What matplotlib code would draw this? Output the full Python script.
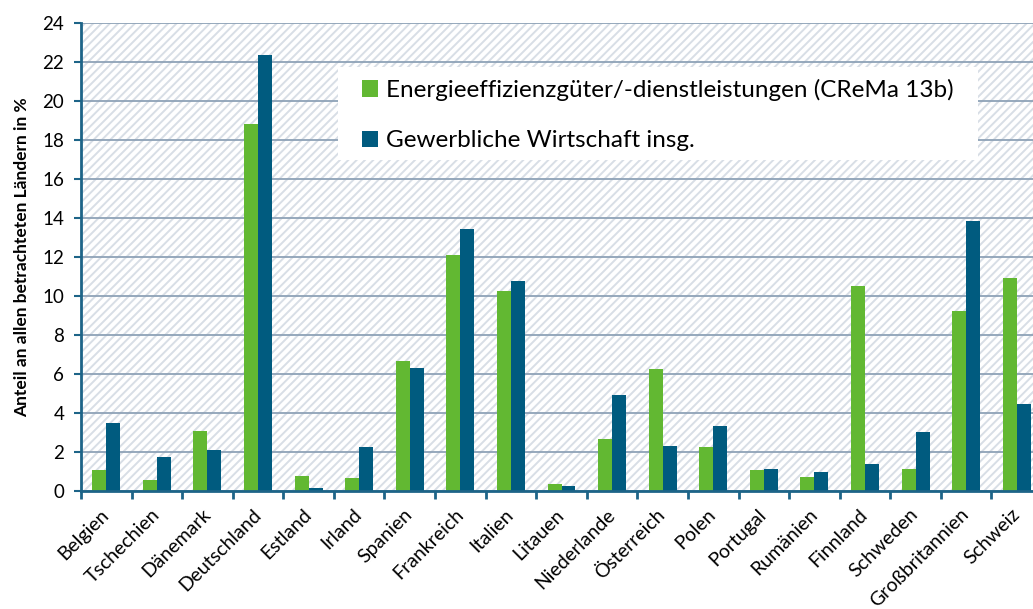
import matplotlib
matplotlib.use('Agg')
import matplotlib.pyplot as plt
from matplotlib.patches import Rectangle
import numpy as np

plt.rcParams['font.family'] = ['Lato', 'DejaVu Sans']
plt.rcParams['hatch.linewidth'] = 1.4
plt.rcParams['hatch.color'] = '#d8dee6'

# data
laender = ['Belgien', 'Tschechien', 'Dänemark', 'Deutschland', 'Estland', 'Irland', 'Spanien',
           'Frankreich', 'Italien', 'Litauen', 'Niederlande', 'Österreich', 'Polen', 'Portugal',
           'Rumänien', 'Finnland', 'Schweden', 'Großbritannien', 'Schweiz']
energieeffizienz = [1.08, 0.55, 3.08, 18.84, 0.78, 0.65, 6.65, 12.1, 10.27, 0.35, 2.67, 6.27,
                    2.27, 1.09, 0.70, 10.53, 1.13, 9.23, 10.94]
gewerbe = [3.5, 1.74, 2.09, 22.36, 0.15, 2.26, 6.3, 13.45, 10.8, 0.25, 4.94, 2.32,
           3.33, 1.13, 0.99, 1.38, 3.04, 13.86, 4.44]
label_green = 'Energieeffizienzgüter/-dienstleistungen (CReMa 13b)'
label_blue = 'Gewerbliche Wirtschaft insg.'

green = '#62b832'
blue = '#005b7f'
axis_col = '#1d6488'
W, H = 1033, 609

fig = plt.figure(figsize=(10.33, 6.09), dpi=100)
ax = fig.add_axes([81 / W, 118 / H, 961 / W, 467.7 / H])

# hatched background
bg = Rectangle((0, 0), 1, 1, transform=ax.transAxes, facecolor='white',
               hatch='////', edgecolor='#d8dee6', linewidth=0, zorder=0)
ax.add_patch(bg)

x = np.arange(len(laender))
w = 0.276
ax.bar(x - w / 2, energieeffizienz, width=w, color=green, label=label_green, zorder=2)
ax.bar(x + w / 2, gewerbe, width=w, color=blue, label=label_blue, zorder=2)

ax.set_xlim(-0.5, len(laender) - 0.5)
ax.set_ylim(0, 24)
ax.set_yticks(np.arange(0, 25, 2))
ax.yaxis.grid(True, color='#8ea2b7', linewidth=1.3)
ax.set_axisbelow(True)

# x ticks at category boundaries, labels at centres
ax.set_xticks(np.arange(-0.5, len(laender), 1))
ax.set_xticklabels([])
ax.set_xticks(x, minor=True)
ax.set_xticklabels(laender, minor=True, rotation=45, ha='right', va='center',
                   rotation_mode='anchor', fontsize=14)
ax.tick_params(axis='x', which='major', length=6, width=2, color=axis_col)
ax.tick_params(axis='x', which='minor', length=0, pad=15)
ax.tick_params(axis='y', length=5, width=1.5, color=axis_col, labelsize=13.5, pad=7)

for s in ['top', 'right']:
    ax.spines[s].set_visible(False)
for s in ['left', 'bottom']:
    ax.spines[s].set_color(axis_col)
    ax.spines[s].set_linewidth(2)

ax.set_ylabel('Anteil an allen betrachteten Ländern in %', fontsize=12.5, fontweight='bold', labelpad=9)

# white legend box
ax.add_patch(Rectangle((338 / W, 1 - 160 / H), 640 / W, 93 / H, transform=fig.transFigure,
                       facecolor='white', edgecolor='none', zorder=3))
leg = ax.legend(loc='upper left', bbox_to_anchor=(362 / W, 1 - 79 / H),
                bbox_transform=fig.transFigure, fontsize=17.5, frameon=False,
                handlelength=0.65, handleheight=0.65, handletextpad=0.35,
                labelspacing=1.2, borderpad=0, borderaxespad=0)
leg.set_zorder(5)

fig.savefig('out.png', dpi=100)
